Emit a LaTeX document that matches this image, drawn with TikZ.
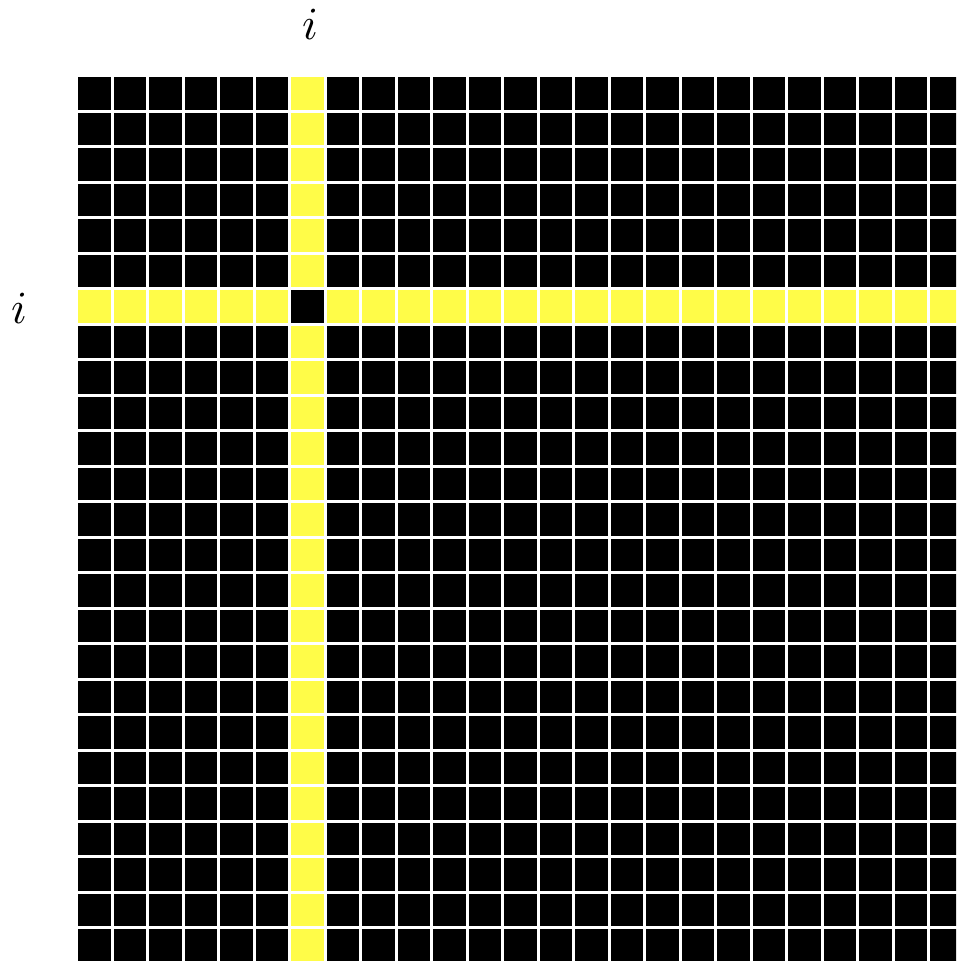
\documentclass[tikz,border=0pt]{standalone}
\definecolor{hl}{RGB}{255,252,72}
\tikzset{cellblack/.style={fill=black}, cellyellow/.style={fill=hl}, lab/.style={scale=4.6, inner sep=0pt}}
\begin{document}
\begin{tikzpicture}[x=1pt,y=-1pt]
\useasboundingbox (0,0) rectangle (956,961);
\clip (0,0) rectangle (956,961);
\foreach \c in {0,...,24}{
  \foreach \r in {0,...,24}{
    \pgfmathsetmacro{\xl}{78+35.5*\c}
    \pgfmathsetmacro{\yt}{77+35.5*\r}
    \pgfmathtruncatemacro{\isc}{\c==6 ? 1 : 0}
    \pgfmathtruncatemacro{\isr}{\r==6 ? 1 : 0}
    \pgfmathtruncatemacro{\ylw}{(\isc+\isr)==1 ? 1 : 0}
    \ifnum\ylw=1
      \fill[cellyellow] (\xl,\yt) rectangle ++(32.5,32.5);
    \else
      \fill[cellblack] (\xl,\yt) rectangle ++(32.5,32.5);
    \fi
  }
}
\node[lab] (topi) at (310,24) {$i$};
\node[lab] (lefti) at (19,308) {$i$};
\end{tikzpicture}
\end{document}
